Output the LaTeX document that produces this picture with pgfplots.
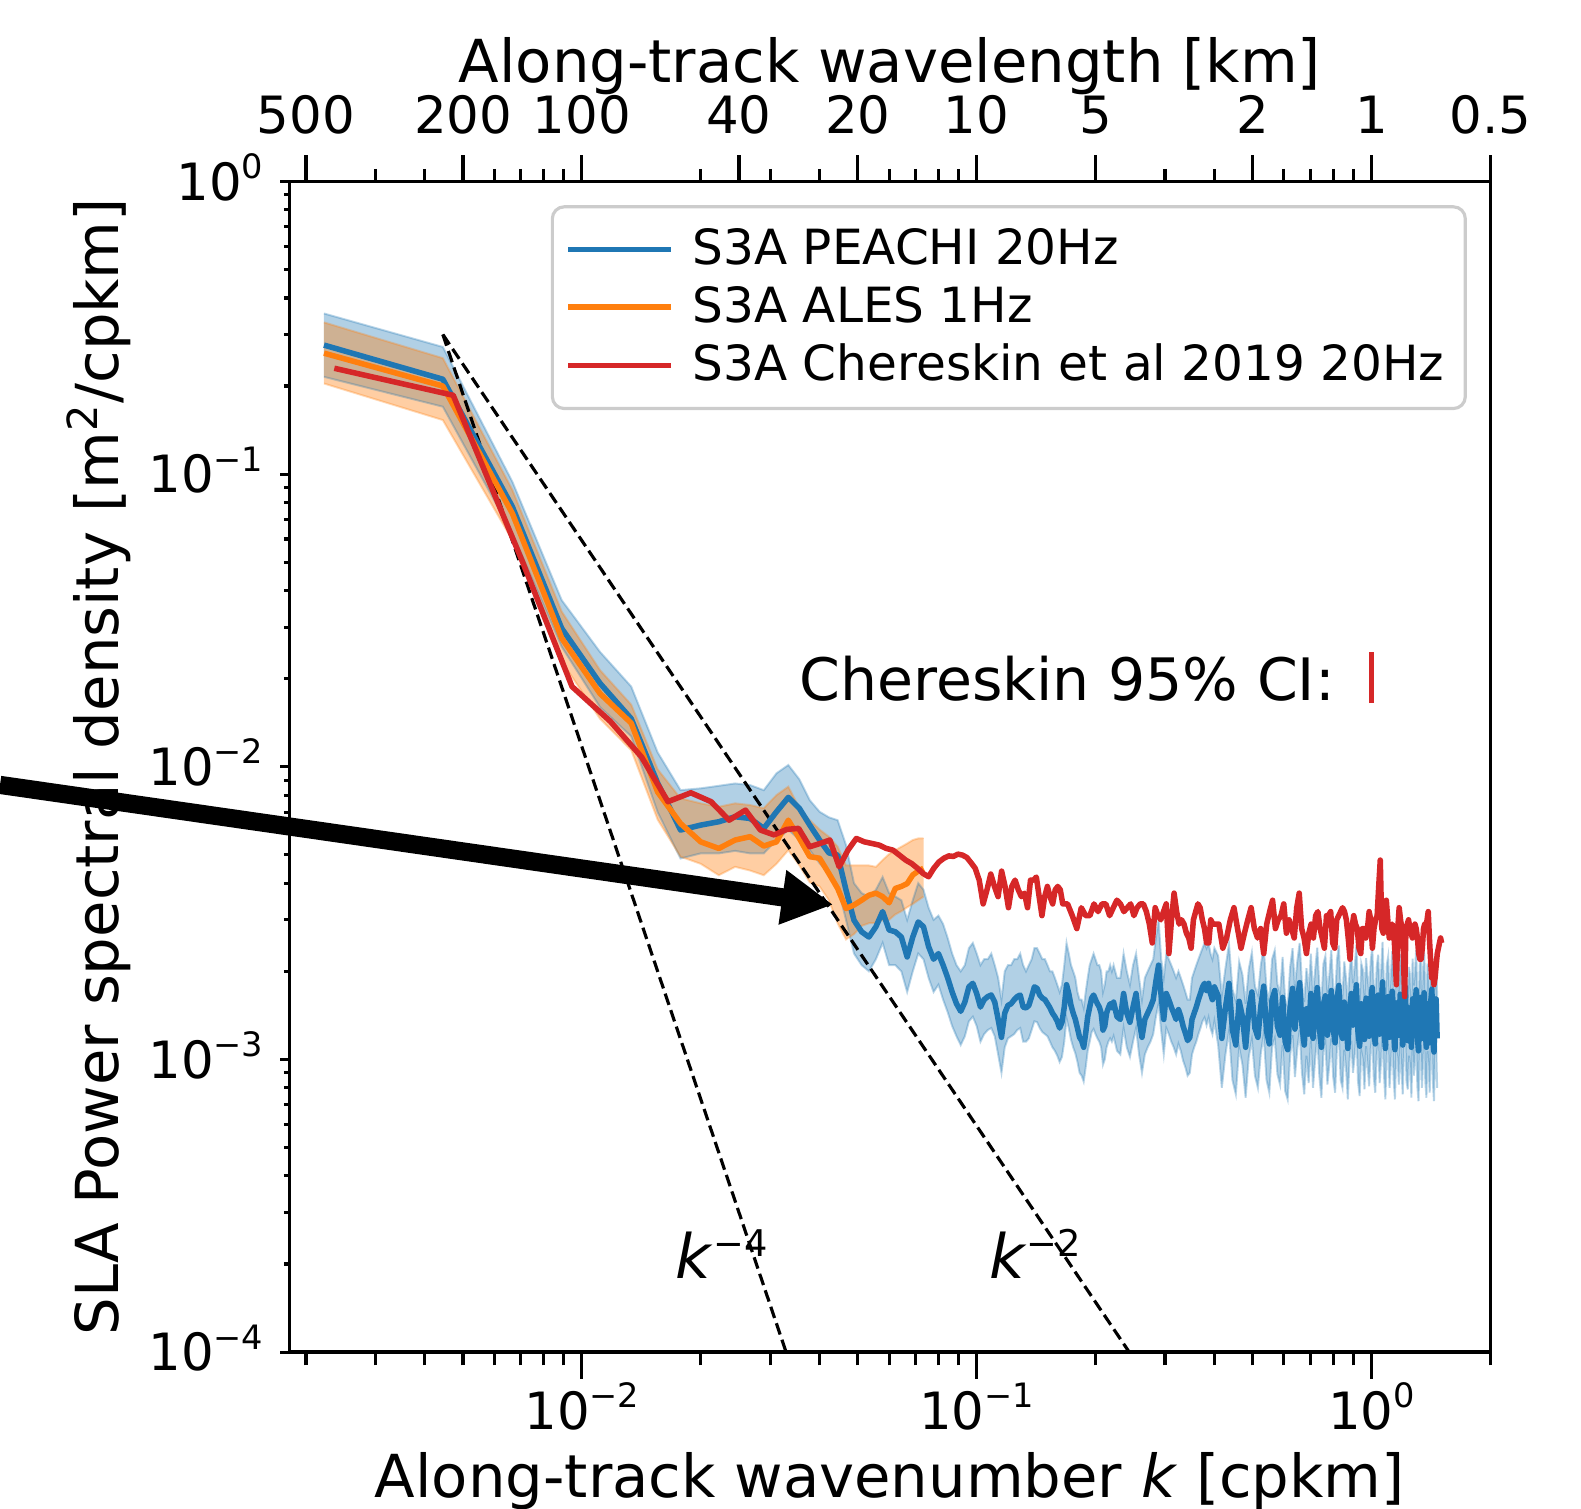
\documentclass[border=0pt]{standalone}
\usepackage{fontspec}
\setmainfont{DejaVu Sans}
\usepackage{pgfplots}
\pgfplotsset{compat=1.18}
\usepackage{pgfplotstable}
\usepgfplotslibrary{fillbetween}
\usetikzlibrary{arrows.meta}
\definecolor{c0}{HTML}{1F77B4}
\definecolor{c1}{HTML}{FF7F0E}
\definecolor{c3}{HTML}{D62728}
\newcommand{\tp}[1]{10\raisebox{0.42em}{\fontsize{8.5pt}{9pt}\selectfont #1}}
\newcommand{\fsT}{\fontsize{13pt}{15pt}\selectfont}
\newcommand{\fsL}{\fontsize{15pt}{18pt}\selectfont}

\pgfplotstableread{
k y lo hi
0.002222 0.276 0.215 0.354
0.004444 0.211 0.170 0.272
0.006667 0.0774 0.0628 0.0942
0.008889 0.0297 0.0257 0.0371
0.011111 0.0193 0.0160 0.0247
0.013333 0.0146 0.0127 0.0188
0.015556 0.0088 0.0070 0.0112
0.017778 0.00608 0.00486 0.00832
0.020000 0.00632 0.00506 0.00844
0.022222 0.00649 0.00506 0.00861
0.024444 0.00675 0.00516 0.00877
0.026667 0.00666 0.00506 0.00866
0.028889 0.00616 0.00506 0.00832
0.031111 0.00702 0.00562 0.00950
0.033333 0.00786 0.00608 0.01014
0.035556 0.00721 0.00565 0.00906
0.037778 0.00632 0.00519 0.00769
0.040000 0.00562 0.00468 0.00702
0.042222 0.00508 0.00432 0.00672
0.044444 0.00499 0.00390 0.00657
0.046667 0.00379 0.00300 0.00540
0.048889 0.00299 0.00230 0.00400
0.051111 0.00273 0.00210 0.00370
0.053333 0.00262 0.00200 0.00360
0.055556 0.00284 0.00220 0.00380
0.057778 0.00320 0.00250 0.00420
0.060000 0.00277 0.00210 0.00370
0.062222 0.00273 0.00210 0.00360
0.064444 0.00262 0.00200 0.00350
0.066667 0.00224 0.00170 0.00300
0.068889 0.00262 0.00200 0.00350
0.071111 0.00295 0.00230 0.00400
0.073333 0.00284 0.00220 0.00380
0.075556 0.00243 0.00190 0.00330
0.077778 0.00220 0.00170 0.00300
0.080000 0.00230 0.00180 0.00310
0.082222 0.00210 0.00160 0.00290
0.084444 0.00190 0.00145 0.00260
0.086667 0.00170 0.00130 0.00230
0.088889 0.00155 0.00120 0.00210
0.091111 0.00146 0.00112 0.00200
0.093333 0.00157 0.00120 0.00210
0.095556 0.00177 0.00135 0.00240
0.097778 0.00182 0.00140 0.00250
0.100000 0.00168 0.00130 0.00230
0.102222 0.00151 0.00115 0.00210
0.104444 0.00160 0.00122 0.00220
0.106667 0.00164 0.00126 0.00220
0.108889 0.00166 0.00128 0.00230
0.111111 0.00157 0.00120 0.00210
0.113333 0.00137 0.00104 0.00190
0.115556 0.00119 0.00090 0.00160
0.117778 0.00144 0.00110 0.00200
0.120000 0.00153 0.00118 0.00210
0.122222 0.00155 0.00120 0.00210
0.124444 0.00160 0.00122 0.00220
0.126667 0.00164 0.00126 0.00220
0.128889 0.00166 0.00128 0.00230
0.131111 0.00151 0.00115 0.00210
0.133333 0.00150 0.00115 0.00200
0.135556 0.00153 0.00118 0.00210
0.137778 0.00164 0.00126 0.00220
0.140000 0.00177 0.00135 0.00240
0.142222 0.00175 0.00134 0.00240
0.144444 0.00166 0.00128 0.00230
0.146667 0.00162 0.00124 0.00220
0.148889 0.00160 0.00122 0.00220
0.151111 0.00155 0.00120 0.00210
0.153333 0.00150 0.00115 0.00200
0.155556 0.00144 0.00110 0.00200
0.157778 0.00140 0.00107 0.00190
0.160000 0.00135 0.00103 0.00180
0.162222 0.00128 0.00098 0.00170
0.164444 0.00134 0.00102 0.00180
0.166667 0.00151 0.00115 0.00210
0.168889 0.00180 0.00138 0.00250
0.171111 0.00168 0.00128 0.00230
0.173333 0.00153 0.00117 0.00210
0.175556 0.00144 0.00110 0.00200
0.177778 0.00137 0.00105 0.00190
0.180000 0.00128 0.00098 0.00170
0.182222 0.00119 0.00090 0.00160
0.184444 0.00116 0.00088 0.00160
0.186667 0.00110 0.00084 0.00150
0.188889 0.00123 0.00094 0.00170
0.191111 0.00140 0.00107 0.00190
0.193333 0.00151 0.00115 0.00210
0.195556 0.00162 0.00124 0.00220
0.197778 0.00166 0.00127 0.00230
0.200000 0.00160 0.00122 0.00220
0.202222 0.00155 0.00118 0.00210
0.204444 0.00151 0.00115 0.00210
0.206667 0.00144 0.00110 0.00200
0.208889 0.00126 0.00096 0.00170
0.211111 0.00130 0.00100 0.00180
0.213333 0.00144 0.00110 0.00200
0.215556 0.00150 0.00115 0.00200
0.217778 0.00155 0.00118 0.00210
0.220000 0.00150 0.00115 0.00200
0.222222 0.00157 0.00120 0.00210
0.226667 0.00140 0.00107 0.00190
0.231111 0.00137 0.00104 0.00190
0.235556 0.00168 0.00128 0.00230
0.240000 0.00144 0.00110 0.00200
0.244444 0.00134 0.00102 0.00180
0.248889 0.00151 0.00115 0.00210
0.253333 0.00168 0.00128 0.00230
0.257778 0.00137 0.00104 0.00190
0.262222 0.00119 0.00090 0.00160
0.266667 0.00137 0.00104 0.00190
0.271111 0.00144 0.00110 0.00200
0.275556 0.00151 0.00115 0.00210
0.280000 0.00160 0.00122 0.00220
0.284444 0.00185 0.00140 0.00260
0.288889 0.00210 0.00155 0.00300
0.293333 0.00164 0.00125 0.00220
0.297778 0.00137 0.00104 0.00190
0.302222 0.00168 0.00128 0.00230
0.306667 0.00160 0.00122 0.00220
0.311111 0.00151 0.00115 0.00210
0.315556 0.00144 0.00110 0.00200
0.320000 0.00137 0.00104 0.00190
0.324444 0.00148 0.00113 0.00200
0.328889 0.00140 0.00107 0.00190
0.333333 0.00130 0.00099 0.00180
0.337778 0.00123 0.00094 0.00170
0.342222 0.00116 0.00088 0.00160
0.346667 0.00119 0.00090 0.00160
0.351111 0.00137 0.00104 0.00190
0.355556 0.00144 0.00110 0.00200
0.360000 0.00151 0.00115 0.00210
0.364444 0.00160 0.00122 0.00220
0.368889 0.00168 0.00128 0.00230
0.373333 0.00177 0.00135 0.00240
0.377778 0.00182 0.00139 0.00250
0.382222 0.00172 0.00131 0.00240
0.386667 0.00182 0.00139 0.00250
0.391111 0.00168 0.00128 0.00230
0.395556 0.00160 0.00122 0.00220
0.400000 0.00177 0.00135 0.00240
0.408889 0.00165 0.00112 0.00226
0.417778 0.00118 0.00080 0.00166
0.426667 0.00150 0.00104 0.00205
0.435556 0.00182 0.00125 0.00248
0.444444 0.00126 0.00085 0.00174
0.453333 0.00112 0.00076 0.00158
0.462222 0.00158 0.00110 0.00216
0.471111 0.00140 0.00096 0.00195
0.480000 0.00110 0.00074 0.00155
0.488889 0.00148 0.00102 0.00204
0.497778 0.00170 0.00117 0.00232
0.506667 0.00128 0.00088 0.00178
0.515556 0.00119 0.00080 0.00166
0.524444 0.00152 0.00105 0.00210
0.533333 0.00178 0.00122 0.00243
0.542222 0.00125 0.00085 0.00174
0.551111 0.00113 0.00077 0.00158
0.560000 0.00160 0.00110 0.00220
0.568889 0.00172 0.00118 0.00236
0.577778 0.00130 0.00089 0.00181
0.586667 0.00121 0.00082 0.00168
0.595556 0.00163 0.00112 0.00224
0.604444 0.00115 0.00078 0.00160
0.613333 0.00108 0.00073 0.00151
0.622222 0.00150 0.00103 0.00207
0.631111 0.00175 0.00121 0.00240
0.640000 0.00127 0.00087 0.00176
0.648889 0.00158 0.00109 0.00217
0.657778 0.00183 0.00126 0.00250
0.666667 0.00131 0.00090 0.00182
0.675556 0.00112 0.00076 0.00157
0.684444 0.00149 0.00103 0.00205
0.693333 0.00122 0.00083 0.00170
0.702222 0.00168 0.00116 0.00230
0.711111 0.00118 0.00080 0.00165
0.720000 0.00146 0.00100 0.00202
0.728889 0.00176 0.00121 0.00241
0.737778 0.00129 0.00088 0.00179
0.746667 0.00110 0.00074 0.00155
0.755556 0.00154 0.00106 0.00212
0.764444 0.00165 0.00114 0.00226
0.773333 0.00121 0.00082 0.00169
0.782222 0.00140 0.00096 0.00194
0.791111 0.00172 0.00118 0.00236
0.800000 0.00127 0.00087 0.00176
0.808889 0.00114 0.00077 0.00160
0.817778 0.00160 0.00110 0.00220
0.826667 0.00179 0.00123 0.00245
0.835556 0.00125 0.00085 0.00174
0.844444 0.00118 0.00080 0.00165
0.853333 0.00157 0.00108 0.00216
0.862222 0.00136 0.00093 0.00189
0.871111 0.00109 0.00073 0.00153
0.880000 0.00145 0.00100 0.00200
0.888889 0.00168 0.00116 0.00230
0.897778 0.00131 0.00090 0.00182
0.906667 0.00150 0.00103 0.00207
0.915556 0.00180 0.00124 0.00246
0.924444 0.00124 0.00084 0.00172
0.933333 0.00111 0.00075 0.00156
0.942222 0.00155 0.00107 0.00213
0.951111 0.00146 0.00100 0.00202
0.960000 0.00117 0.00079 0.00163
0.968889 0.00162 0.00111 0.00222
0.977778 0.00138 0.00095 0.00191
0.986667 0.00120 0.00081 0.00167
0.995556 0.00158 0.00109 0.00217
1.004444 0.00176 0.00121 0.00241
1.013333 0.00128 0.00087 0.00178
1.022222 0.00113 0.00077 0.00158
1.031111 0.00151 0.00104 0.00208
1.040000 0.00166 0.00114 0.00228
1.048889 0.00122 0.00083 0.00170
1.057778 0.00144 0.00099 0.00199
1.066667 0.00184 0.00127 0.00252
1.075556 0.00130 0.00089 0.00181
1.084444 0.00109 0.00073 0.00153
1.093333 0.00153 0.00105 0.00211
1.102222 0.00164 0.00113 0.00225
1.111111 0.00119 0.00080 0.00166
1.120000 0.00141 0.00097 0.00195
1.128889 0.00171 0.00118 0.00235
1.137778 0.00126 0.00086 0.00175
1.146667 0.00108 0.00073 0.00151
1.155556 0.00156 0.00108 0.00215
1.164444 0.00147 0.00101 0.00203
1.173333 0.00121 0.00082 0.00168
1.182222 0.00167 0.00115 0.00229
1.191111 0.00135 0.00093 0.00187
1.200000 0.00112 0.00076 0.00157
1.208889 0.00159 0.00109 0.00219
1.217778 0.00177 0.00122 0.00243
1.226667 0.00124 0.00084 0.00172
1.235556 0.00116 0.00079 0.00162
1.244444 0.00150 0.00103 0.00207
1.253333 0.00139 0.00095 0.00192
1.262222 0.00110 0.00074 0.00155
1.271111 0.00161 0.00111 0.00221
1.280000 0.00129 0.00088 0.00179
1.288889 0.00145 0.00100 0.00200
1.297778 0.00173 0.00119 0.00237
1.306667 0.00120 0.00081 0.00167
1.315556 0.00107 0.00072 0.00150
1.324444 0.00152 0.00105 0.00210
1.333333 0.00163 0.00112 0.00224
1.342222 0.00118 0.00080 0.00165
1.351111 0.00142 0.00098 0.00196
1.360000 0.00169 0.00116 0.00232
1.368889 0.00123 0.00084 0.00171
1.377778 0.00110 0.00074 0.00155
1.386667 0.00155 0.00107 0.00213
1.395556 0.00137 0.00094 0.00190
1.404444 0.00114 0.00077 0.00160
1.413333 0.00158 0.00109 0.00217
1.422222 0.00174 0.00120 0.00238
1.431111 0.00122 0.00083 0.00170
1.440000 0.00106 0.00072 0.00149
1.448889 0.00149 0.00103 0.00205
1.457778 0.00161 0.00111 0.00221
1.466667 0.00118 0.00080 0.00165
}\bluetab

\pgfplotstableread{
k y lo hi
0.002222 0.259 0.204 0.330
0.004444 0.200 0.153 0.249
0.006667 0.0734 0.0595 0.0883
0.008889 0.0275 0.0229 0.0339
0.011111 0.0178 0.0146 0.0214
0.013333 0.0141 0.0114 0.0163
0.015556 0.0082 0.0066 0.0098
0.017778 0.00640 0.00493 0.00780
0.020000 0.00554 0.00466 0.00750
0.022222 0.00526 0.00426 0.00730
0.024444 0.00562 0.00455 0.00750
0.026667 0.00577 0.00442 0.00740
0.028889 0.00536 0.00426 0.00722
0.031111 0.00554 0.00466 0.00800
0.033333 0.00657 0.00519 0.00855
0.035556 0.00569 0.00460 0.00722
0.037778 0.00493 0.00403 0.00657
0.040000 0.00487 0.00390 0.00610
0.042222 0.00432 0.00350 0.00577
0.044444 0.00384 0.00292 0.00533
0.046667 0.00328 0.00257 0.00460
0.048889 0.00337 0.00268 0.00460
0.051111 0.00350 0.00286 0.00460
0.053333 0.00364 0.00292 0.00460
0.055556 0.00370 0.00293 0.00455
0.057778 0.00360 0.00299 0.00480
0.060000 0.00343 0.00300 0.00503
0.062222 0.00384 0.00313 0.00519
0.064444 0.00390 0.00321 0.00533
0.066667 0.00399 0.00331 0.00547
0.068889 0.00427 0.00340 0.00562
0.071111 0.00440 0.00350 0.00569
0.073333 0.00450 0.00360 0.00570
}\orangetab

\pgfplotstableread{
k y
0.00236 0.230
0.00472 0.186
0.00708 0.050
0.00944 0.0188
0.01180 0.0143
0.01416 0.0108
0.01652 0.0076
0.01888 0.00815
0.02124 0.0076
0.02360 0.00657
0.02596 0.00711
0.02832 0.00608
0.03068 0.00585
0.03304 0.00611
0.03540 0.00616
0.03776 0.00533
0.04012 0.00547
0.04248 0.00562
0.04484 0.00455
0.04720 0.00519
0.04956 0.00569
0.05192 0.00554
0.05428 0.00547
0.05664 0.00540
0.05900 0.00526
0.06136 0.00519
0.06372 0.00499
0.06608 0.00480
0.06844 0.00467
0.07080 0.00450
0.07316 0.00432
0.07552 0.00421
0.07788 0.00450
0.08024 0.00473
0.08260 0.00487
0.08496 0.00496
0.08732 0.00494
0.08968 0.00503
0.09204 0.00499
0.09440 0.00490
0.09676 0.00470
0.09912 0.00450
0.10148 0.00410
0.10384 0.00340
0.10620 0.00380
0.10856 0.00430
0.11092 0.00390
0.11328 0.00360
0.11564 0.00440
0.11800 0.00390
0.12036 0.00330
0.12272 0.00390
0.12508 0.00410
0.12744 0.00380
0.12980 0.00360
0.13216 0.00370
0.13452 0.00330
0.13688 0.00410
0.13924 0.00410
0.14160 0.00420
0.14396 0.00360
0.14632 0.00310
0.14868 0.00360
0.15104 0.00390
0.15340 0.00360
0.15576 0.00340
0.15812 0.00380
0.16048 0.00390
0.16284 0.00380
0.16520 0.00340
0.16992 0.00340
0.17464 0.00310
0.17936 0.00280
0.18408 0.00330
0.18880 0.00310
0.19352 0.00310
0.19824 0.00340
0.20296 0.00320
0.20768 0.00340
0.21240 0.00340
0.21712 0.00310
0.22184 0.00330
0.22656 0.00350
0.23128 0.00340
0.23600 0.00320
0.24072 0.00330
0.24544 0.00340
0.25016 0.00310
0.25488 0.00330
0.25960 0.00340
0.26432 0.00340
0.26904 0.00320
0.27376 0.00290
0.27848 0.00250
0.28320 0.00330
0.28792 0.00310
0.29264 0.00300
0.29736 0.00320
0.30208 0.00340
0.30680 0.00230
0.31152 0.00300
0.31624 0.00370
0.32096 0.00320
0.32568 0.00290
0.33040 0.00300
0.33512 0.00290
0.33984 0.00270
0.34456 0.00260
0.34928 0.00240
0.35400 0.00300
0.35872 0.00320
0.36344 0.00340
0.36816 0.00330
0.37288 0.00300
0.37760 0.00280
0.38232 0.00250
0.38704 0.00250
0.39176 0.00300
0.39648 0.00290
0.40120 0.00290
0.41064 0.00290
0.42008 0.00240
0.42952 0.00260
0.43896 0.00300
0.44840 0.00330
0.45784 0.00280
0.46728 0.00240
0.47672 0.00270
0.48616 0.00300
0.49560 0.00330
0.50504 0.00280
0.51448 0.00260
0.52392 0.00280
0.53336 0.00230
0.54280 0.00290
0.55224 0.00320
0.56168 0.00350
0.57112 0.00280
0.58056 0.00300
0.59000 0.00310
0.59944 0.00340
0.60888 0.00270
0.61832 0.00300
0.62776 0.00280
0.63720 0.00260
0.64664 0.00330
0.65608 0.00370
0.66552 0.00280
0.67496 0.00260
0.68440 0.00230
0.69384 0.00270
0.70328 0.00290
0.71272 0.00260
0.72216 0.00310
0.73160 0.00320
0.74104 0.00280
0.75048 0.00260
0.75992 0.00240
0.76936 0.00310
0.77880 0.00310
0.78824 0.00320
0.79768 0.00250
0.80712 0.00240
0.81656 0.00300
0.82600 0.00310
0.83544 0.00320
0.84488 0.00330
0.85432 0.00320
0.86376 0.00300
0.87320 0.00260
0.88264 0.00220
0.89208 0.00280
0.90152 0.00310
0.91096 0.00290
0.92040 0.00280
0.92984 0.00240
0.93928 0.00230
0.94872 0.00280
0.95816 0.00280
0.96760 0.00260
0.97704 0.00280
0.98648 0.00320
0.99592 0.00300
1.00536 0.00240
1.01480 0.00280
1.02424 0.00300
1.03368 0.00310
1.04312 0.00390
1.05256 0.00480
1.06200 0.00280
1.07144 0.00270
1.08088 0.00320
1.09032 0.00350
1.09976 0.00300
1.10920 0.00260
1.11864 0.00280
1.12808 0.00290
1.13752 0.00280
1.14696 0.00230
1.15640 0.00180
1.16584 0.00280
1.17528 0.00330
1.18472 0.00300
1.19416 0.00280
1.20360 0.00240
1.21304 0.00164
1.22248 0.00280
1.23192 0.00290
1.24136 0.00300
1.25080 0.00280
1.26024 0.00270
1.26968 0.00260
1.27912 0.00280
1.28856 0.00290
1.29800 0.00280
1.30744 0.00260
1.31688 0.00230
1.32632 0.00220
1.33576 0.00220
1.34520 0.00240
1.35464 0.00280
1.36408 0.00290
1.37352 0.00280
1.38296 0.00300
1.39240 0.00320
1.40184 0.00260
1.41128 0.00220
1.42072 0.00190
1.43016 0.00200
1.43960 0.00180
1.44904 0.00190
1.45848 0.00210
1.46792 0.00230
1.47736 0.00240
1.48680 0.00250
1.49624 0.00260
1.50568 0.00250
}\redtab

\begin{document}
\begin{tikzpicture}
\begin{axis}[
  name=ax, at={(0pt,0pt)}, anchor=south west,
  scale only axis, width=303.84pt, height=296.17pt,
  xmode=log, ymode=log,
  xmin=0.001816, xmax=2, ymin=1e-4, ymax=1,
  axis line style={line width=0.8pt},
  tick align=outside,
  major tick length=6.8pt, minor tick length=3.4pt,
  every tick/.style={black, line width=0.8pt},
  xtick={0.01,0.1,1},
  xticklabels={\tp{−2},\tp{−1},\tp{0}},
  minor xtick={0.002,0.003,0.004,0.005,0.006,0.007,0.008,0.009,0.02,0.03,0.04,0.05,0.06,0.07,0.08,0.09,0.2,0.3,0.4,0.5,0.6,0.7,0.8,0.9,2},
  xtick pos=bottom,
  ytick=\empty,
  tick label style={font=\fsT},
  xticklabel style={anchor=base, inner sep=0pt, yshift=-12.7pt},
  xlabel={Along-track wavenumber \textit{k} [cpkm]},
  xlabel style={at={(axis description cs:0.5,-0.1243)}, anchor=base, inner sep=0pt, font=\fsL},
  legend style={at={(0.9805,0.9797)}, anchor=north east, draw=black!20, line width=0.8pt,
    rounded corners=3pt, fill=white, fill opacity=0.8, text opacity=1,
    font=\fontsize{12.27pt}{14pt}\selectfont, inner xsep=3.3pt, inner ysep=3.5pt, row sep=0pt,
    /tikz/every odd column/.append style={column sep=2.8pt}},
  legend cell align=left,
  legend image code/.code={\draw[#1] (0pt,0pt) -- (26pt,0pt);},
]
% bands
\addplot[draw=c0, draw opacity=0.3, line width=0.5pt, name path=bhi, forget plot] table[x=k,y=hi]{\bluetab};
\addplot[draw=c0, draw opacity=0.3, line width=0.5pt, name path=blo, forget plot] table[x=k,y=lo]{\bluetab};
\addplot[fill=c0, fill opacity=0.35, draw=none, forget plot] fill between[of=bhi and blo];
\addplot[draw=c1, draw opacity=0.3, line width=0.5pt, name path=ohi, forget plot] table[x=k,y=hi]{\orangetab};
\addplot[draw=c1, draw opacity=0.3, line width=0.5pt, name path=olo, forget plot] table[x=k,y=lo]{\orangetab};
\addplot[fill=c1, fill opacity=0.38, draw=none, forget plot] fill between[of=ohi and olo];
% reference slopes
\addplot[black, line width=0.8pt, dash pattern=on 3pt off 1.4pt, forget plot] coordinates {(0.004444,0.30) (0.0329,1e-4)};
\addplot[black, line width=0.8pt, dash pattern=on 3pt off 1.4pt, forget plot] coordinates {(0.004444,0.30) (0.2434,1e-4)};
% lines
\addplot[c0, line width=1.4pt, line join=round] table[x=k,y=y]{\bluetab};
\addlegendentry{S3A PEACHI 20Hz}
\addplot[c1, line width=1.4pt, line join=round] table[x=k,y=y]{\orangetab};
\addlegendentry{S3A ALES 1Hz}
\addplot[c3, line width=1.4pt, line join=round] table[x=k,y=y]{\redtab};
\addlegendentry{S3A Chereskin et al 2019 20Hz}
% CI bar
\addplot[c3, line width=1.2pt, forget plot] coordinates {(1,0.0165) (1,0.0247)};
\node[anchor=base east, inner sep=0pt, font=\fontsize{14.8pt}{17pt}\selectfont] at (axis cs:0.812,0.0169) {Chereskin 95\% CI:};
\node[anchor=base west, inner sep=0pt, font=\fontsize{15.5pt}{18pt}\selectfont] at (axis cs:0.01722,1.785e-4) {\textit{k}\raisebox{0.355em}{\fontsize{9.3pt}{10pt}\selectfont −4}};
\node[anchor=base west, inner sep=0pt, font=\fontsize{15.5pt}{18pt}\selectfont] at (axis cs:0.1072,1.785e-4) {\textit{k}\raisebox{0.355em}{\fontsize{9.3pt}{10pt}\selectfont −2}};
\end{axis}

% y axis ticks (short)
\begin{axis}[
  at={(ax.south west)}, anchor=south west,
  scale only axis, width=303.84pt, height=296.17pt,
  xmode=log, ymode=log,
  xmin=0.001816, xmax=2, ymin=1e-4, ymax=1,
  hide x axis, axis y line*=left,
  axis line style={line width=0.8pt, -},
  tick align=outside,
  major tick length=2.3pt, minor tick length=1.4pt,
  every tick/.style={black, line width=0.8pt},
  ytick={1e-4,1e-3,1e-2,1e-1,1},
  yticklabels={\tp{−4},\tp{−3},\tp{−2},\tp{−1},\tp{0}},
  minor ytick={2e-4,3e-4,4e-4,5e-4,6e-4,7e-4,8e-4,9e-4,2e-3,3e-3,4e-3,5e-3,6e-3,7e-3,8e-3,9e-3,2e-2,3e-2,4e-2,5e-2,6e-2,7e-2,8e-2,9e-2,2e-1,3e-1,4e-1,5e-1,6e-1,7e-1,8e-1,9e-1},
  tick label style={font=\fsT},
  yticklabel style={anchor=base east, inner sep=0pt, yshift=-4.75pt, xshift=-4.1pt},
  ylabel={SLA Power spectral density [m\textsuperscript{2}/cpkm]},
  ylabel style={at={(axis description cs:-0.1425,0.5)}, anchor=base, inner sep=0pt, font=\fsL},
]
\addplot[draw=none] coordinates {(0.01,0.01)};
\end{axis}

% top wavelength axis
\begin{axis}[
  at={(ax.south west)}, anchor=south west,
  scale only axis, width=303.84pt, height=296.17pt,
  xmode=log, ymode=log,
  xmin=0.001816, xmax=2, ymin=1e-4, ymax=1,
  hide y axis, axis x line*=top,
  axis line style={line width=0.8pt, -},
  tick align=outside,
  major tick length=6.6pt, minor tick length=3.2pt,
  every tick/.style={black, line width=0.8pt},
  xtick={0.002,0.005,0.01,0.025,0.05,0.1,0.2,0.5,1,2},
  xticklabels={500,200,100,40,20,10,5,2,1,0.5},
  minor xtick={0.003,0.004,0.006,0.007,0.008,0.009,0.02,0.03,0.04,0.06,0.07,0.08,0.09,0.3,0.4,0.6,0.7,0.8,0.9},
  tick label style={font=\fsT},
  xticklabel style={anchor=base, inner sep=0pt, yshift=5.6pt},
  xlabel={Along-track wavelength [km]},
  xlabel style={at={(axis description cs:0.5,1.0844)}, anchor=base, inner sep=0pt, font=\fsL},
]
\addplot[draw=none] coordinates {(0.01,0.01)};
\end{axis}

% annotation arrow
\draw[line width=4.6pt, -{Triangle[length=13pt, width=13pt]}]
  ([shift={(-73.22pt,143.5pt)}]ax.south west) -- ([shift={(137.6pt,113.2pt)}]ax.south west);
% fixed canvas
\pgfresetboundingbox
\useasboundingbox (-73.22pt,-39.69pt) rectangle (326.78pt,342.09pt);
\end{tikzpicture}
\end{document}
